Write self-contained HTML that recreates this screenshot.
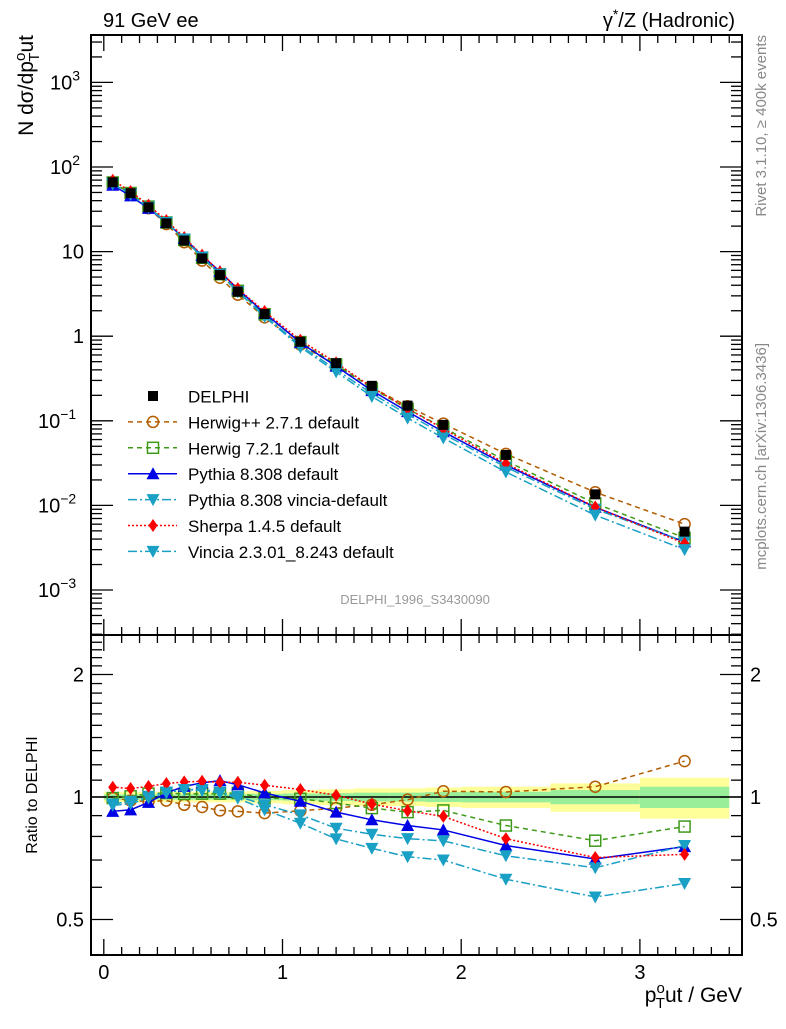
<!DOCTYPE html>
<html><head><meta charset="utf-8"><style>
body{margin:0;background:#fff;width:786px;height:1024px;overflow:hidden;font-family:"Liberation Sans",sans-serif}
svg text{font-family:"Liberation Sans",sans-serif}
</style></head><body>
<svg id="chart" width="786" height="1024" xmlns="http://www.w3.org/2000/svg"></svg>
<script>
const xCenters=[0.05,0.15,0.25,0.35,0.45,0.55,0.65,0.75,0.9,1.1,1.3,1.5,1.7,1.9,2.25,2.75,3.25];
const binEdges=[0,0.1,0.2,0.3,0.4,0.5,0.6,0.7,0.8,1.0,1.2,1.4,1.6,1.8,2.0,2.5,3.0,3.5];
const delphi=[66,49,33.4,21.6,13.5,8.3,5.3,3.36,1.83,0.86,0.48,0.259,0.151,0.0895,0.0395,0.0135,0.0049];
const bandYellow=[0.03,0.03,0.03,0.03,0.03,0.03,0.03,0.03,0.035,0.04,0.045,0.05,0.05,0.055,0.06,0.08,0.115];
const bandGreen=[0.015,0.015,0.015,0.015,0.015,0.015,0.015,0.015,0.018,0.02,0.022,0.025,0.025,0.028,0.03,0.04,0.06];
const rHerwigpp=[0.994,0.98,0.975,0.98,0.957,0.945,0.927,0.922,0.913,0.925,0.939,0.957,0.985,1.033,1.029,1.06,1.225];
const rHerwig7=[0.994,1.004,1.019,1.023,1.017,1.019,1.019,1.023,0.994,0.99,0.966,0.939,0.918,0.927,0.851,0.781,0.846];
const rPythia=[0.922,0.93,0.97,1.023,1.062,1.083,1.097,1.072,1.023,0.976,0.918,0.879,0.851,0.83,0.76,0.704,0.755];
const rPyVincia=[0.961,0.976,1.004,1.029,1.043,1.043,1.029,1.004,0.957,0.904,0.838,0.81,0.79,0.78,0.717,0.67,0.76];
const rSherpa=[1.057,1.049,1.062,1.079,1.089,1.093,1.087,1.087,1.069,1.043,1.01,0.961,0.925,0.896,0.79,0.71,0.723];
const rVincia=[0.954,0.963,0.994,1.023,1.043,1.037,1.023,0.994,0.93,0.862,0.789,0.748,0.713,0.70,0.628,0.568,0.613];
const xTickLabels=["0","1","2","3"];
const yMainLabels=[["10","3"],["10","2"],["10",""],["1",""],["10","−1"],["10","−2"],["10","−3"]];
const ratioLabels=["0.5","1","2"];

const NS="http://www.w3.org/2000/svg";
const svg=document.getElementById('chart');
const L=91,R=742,T=35,M=635,B=955;
const X=v=>103.8+v*178.7;
const YM=v=>167-(Math.log10(v)-2)*84.6;
const YR=v=>797-Math.log10(v)*407;
function el(tag,attrs,parent){const e=document.createElementNS(NS,tag);for(const k in attrs)e.setAttribute(k,attrs[k]);(parent||svg).appendChild(e);return e;}
function txt(s,x,y,size,attrs,parent){const t=el('text',Object.assign({x:x,y:y,'font-size':size},attrs||{}),parent);t.textContent=s;return t;}

// clip paths
const defs=el('defs',{});
const c1=el('clipPath',{id:'cm'},defs);el('rect',{x:L,y:T,width:R-L,height:M-T},c1);
const c2=el('clipPath',{id:'cr'},defs);el('rect',{x:L,y:M,width:R-L,height:B-M},c2);

// ratio bands
const gb=el('g',{'clip-path':'url(#cr)'});


for(let i=0;i<bandYellow.length;i++){
 const x1=X(binEdges[i]),x2=X(binEdges[i+1]);
 const r=el('rect',{x:x1,y:YR(1+bandYellow[i]),width:x2-x1,height:YR(1-bandYellow[i])-YR(1+bandYellow[i]),fill:'#ffff99'},gb);
 
 
 const g=el('rect',{x:x1,y:YR(1+bandGreen[i]),width:x2-x1,height:YR(1-bandGreen[i])-YR(1+bandGreen[i]),fill:'#99ee99'},gb);
 
 
}
const one=el('line',{x1:L,x2:R,y1:YR(1),y2:YR(1),stroke:'#000','stroke-width':1.5});



// frames
const f1=el('rect',{x:L,y:T,width:R-L,height:M-T,fill:'none',stroke:'#000','stroke-width':2});

const f2=el('rect',{x:L,y:M,width:R-L,height:B-M,fill:'none',stroke:'#000','stroke-width':2});


// x ticks
const gx=el('g',{stroke:'#000','stroke-width':1.3});

for(let k=0;k<=35;k++){
 const v=k/10,x=X(v),len=(k%10===0)?16:8;
 [[M,-1],[T,1],[M,1],[B,-1]].forEach(([y0,d])=>el('line',{x1:x,x2:x,y1:y0,y2:y0+d*len},gx));
}
xTickLabels.forEach((s,i)=>{const t=txt(s,X(i),979,20,{'text-anchor':'middle'});
 });

// main y ticks
const gy=el('g',{stroke:'#000','stroke-width':1.3});

for(let e=-4;e<=3;e++){for(let m=1;m<=9;m++){const v=m*Math.pow(10,e);const y=YM(v);if(y<T||y>M)continue;
 const len=m===1?22:11;el('line',{x1:L,x2:L+len,y1:y,y2:y},gy);el('line',{x1:R,x2:R-len,y1:y,y2:y},gy);}}
yMainLabels.forEach((p,i)=>{const y=YM(Math.pow(10,3-i))+7;
 const t=txt('',p[1]?70:84,y,20,{'text-anchor':'end'});
 
 const s1=el('tspan',{},t);s1.textContent=p[0];
 if(p[1]){t.setAttribute('x',p[1].length>1?66:68);const s2=el('tspan',{dy:-9,'font-size':14},t);s2.textContent=p[1];t.setAttribute('text-anchor','start');
  t.setAttribute('x',p[1].length>1?38:50);}
});
// ratio ticks
for(let k=4;k<=25;k++){const v=k/10,y=YR(v);if(y<M||y>B)continue;const major=(k===5||k===10||k===20);const len=major?22:11;
 el('line',{x1:L,x2:L+len,y1:y,y2:y},gy);el('line',{x1:R,x2:R-len,y1:y,y2:y},gy);}
ratioLabels.forEach(s=>{const y=YR(parseFloat(s))+7;
 const a=txt(s,84,y,20,{'text-anchor':'end'});
 const b=txt(s,750,y,20,{});});

// series
const series=[
 {name:'herwigpp',r:rHerwigpp,color:'#b35c00',dash:'5,4',m:'circle'},
 {name:'herwig7',r:rHerwig7,color:'#3f9a1a',dash:'5,4',m:'square'},
 {name:'pythia',r:rPythia,color:'#0000e6',dash:'',m:'tri'},
 {name:'pythia-vincia',r:rPyVincia,color:'#1aa0c4',dash:'9,3,2,3',m:'tridown'},
 {name:'sherpa',r:rSherpa,color:'#ff0000',dash:'2,2',m:'diamond'},
 {name:'vincia',r:rVincia,color:'#1aa0c4',dash:'9,3,2,3',m:'tridown'}];
function marker(type,x,y,color,g,s){s=s||5.5;let e;
 if(type==='circle')e=el('circle',{cx:x,cy:y,r:s,fill:'none',stroke:color,'stroke-width':1.5},g);
 else if(type==='square')e=el('rect',{x:x-s,y:y-s,width:2*s,height:2*s,fill:'none',stroke:color,'stroke-width':1.5},g);
 else if(type==='tri')e=el('polygon',{points:`${x},${y-s-1} ${x-s-1},${y+s} ${x+s+1},${y+s}`,fill:color},g);
 else if(type==='tridown')e=el('polygon',{points:`${x},${y+s+1} ${x-s-1},${y-s} ${x+s+1},${y-s}`,fill:color},g);
 else if(type==='diamond')e=el('polygon',{points:`${x},${y-s-1} ${x-s+1},${y} ${x},${y+s+1} ${x+s-1},${y}`,fill:color},g);
 else e=el('rect',{x:x-s,y:y-s,width:2*s,height:2*s,fill:color},g);
 return e;}
series.forEach(sr=>{
 [['cm',(i)=>YM(delphi[i]*sr.r[i])],['cr',(i)=>YR(sr.r[i])]].forEach(([clip,yf])=>{
  const g=el('g',{'clip-path':`url(#${clip})`});
  
  
  const pts=xCenters.map((x,i)=>`${X(x)},${yf(i)}`).join(' ');
  const pl=el('polyline',{points:pts,fill:'none',stroke:sr.color,'stroke-width':1.5,'stroke-dasharray':sr.dash},g);
  
  
  xCenters.forEach((x,i)=>{const mk=marker(sr.m,X(x),yf(i),sr.color,g);
   
   });
 });
});
// DELPHI data
const gd=el('g',{'clip-path':'url(#cm)'});

xCenters.forEach((x,i)=>{const m=marker('sq',X(x),YM(delphi[i]),'#000',gd,5);
 });

// legend
const leg=[['DELPHI',null],['Herwig++ 2.7.1 default',0],['Herwig 7.2.1 default',1],['Pythia 8.308 default',2],['Pythia 8.308 vincia-default',3],['Sherpa 1.4.5 default',4],['Vincia 2.3.01_8.243 default',5]];
leg.forEach((l,i)=>{const y=396+i*25.9;const g=el('g',{});
 
 if(l[1]===null){marker('sq',153,y,'#000',g,5);}else{const sr=series[l[1]];
  el('line',{x1:128,x2:177,y1:y,y2:y,stroke:sr.color,'stroke-width':1.5,'stroke-dasharray':sr.dash},g);marker(sr.m,153,y,sr.color,g);}
 txt(l[0],188,y+6.5,17,{},g);});

// texts
let t;
t=txt('91 GeV ee',103,27,20,{});
t=txt('',735,27,20,{'text-anchor':'end'});
t.innerHTML='γ<tspan dy="-8" font-size="14">*</tspan><tspan dy="8">/Z (Hadronic)</tspan>';
t=txt('DELPHI_1996_S3430090',415,604,13,{'text-anchor':'middle',fill:'#999'});
t=txt('Rivet 3.1.10, ≥ 400k events',0,0,15,{fill:'#888','text-anchor':'end',transform:'translate(766,35) rotate(-90)'});
t=txt('mcplots.cern.ch [arXiv:1306.3436]',0,0,15,{fill:'#888','text-anchor':'end',transform:'translate(766,343) rotate(-90)'});
t=txt('',0,0,21,{'text-anchor':'end',transform:'translate(33,35) rotate(-90)'});
t.innerHTML='N dσ/dp<tspan dy="-8" font-size="15">o</tspan><tspan dy="14" dx="-9" font-size="15">T</tspan><tspan dy="-6">ut</tspan>';
t=txt('Ratio to DELPHI',0,0,16,{'text-anchor':'middle',transform:'translate(37,795) rotate(-90)'});
t=txt('',742,1002,21,{'text-anchor':'end'});
t.innerHTML='p<tspan dy="-9" font-size="15">o</tspan><tspan dy="15" dx="-9" font-size="15">T</tspan><tspan dy="-6">ut / GeV</tspan>';
</script>
</body></html>
